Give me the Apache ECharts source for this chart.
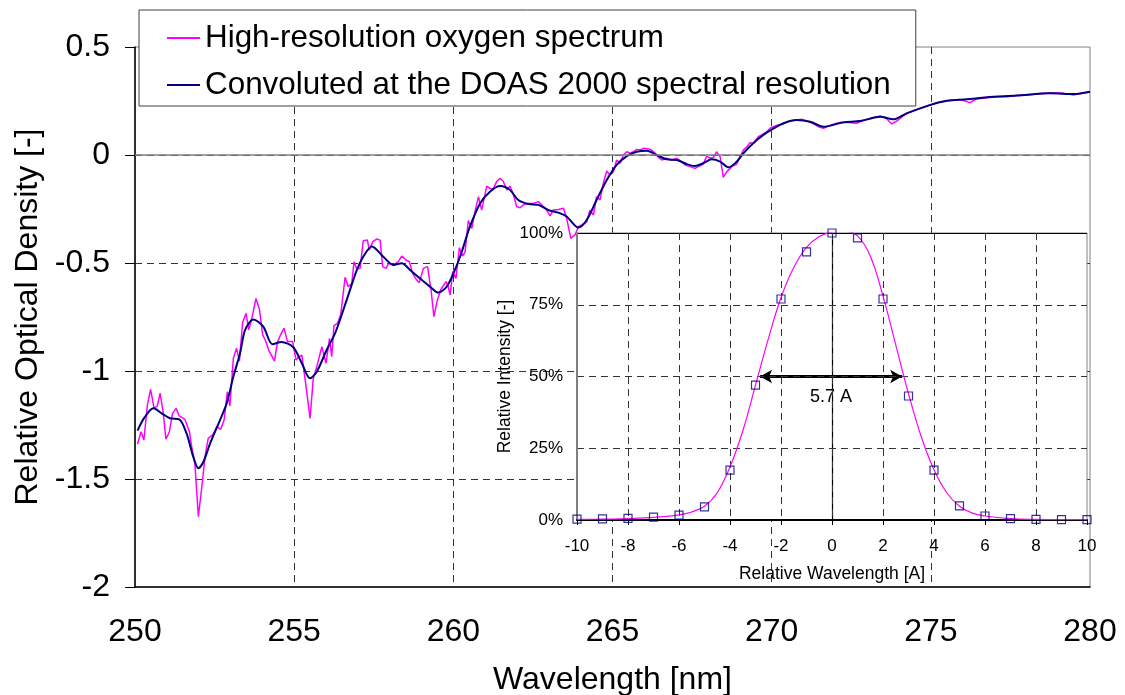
<!DOCTYPE html>
<html><head><meta charset="utf-8">
<script src="https://cdn.jsdelivr.net/npm/echarts@6/dist/echarts.min.js"></script>
<style>html,body{margin:0;padding:0;background:#fff}#c{width:1125px;height:695px}</style>
</head><body><div id="c"></div>
<script>
// ---- Main chart data ----
const hiresX = [250.08,250.19,250.28,250.39,250.49,250.6,250.7,250.79,250.89,250.97,251.08,251.18,251.29,251.39,251.57,251.71,251.78,251.88,251.99,252.1,252.2,252.3,252.44,252.57,252.69,252.8,252.9,252.98,253.09,253.19,253.28,253.38,253.49,253.57,253.67,253.8,253.91,254.01,254.1,254.2,254.38,254.48,254.58,254.68,254.79,254.95,255.06,255.13,255.24,255.34,255.5,255.6,255.71,255.87,256.0,256.11,256.18,256.25,256.36,256.46,256.6,256.7,256.81,256.88,256.96,257.07,257.17,257.3,257.36,257.47,257.59,257.7,257.78,257.89,257.96,258.12,258.27,258.38,258.51,258.62,258.72,258.85,258.93,259.06,259.19,259.3,259.39,259.5,259.6,259.77,259.84,259.9,259.98,260.08,260.19,260.29,260.37,260.47,260.58,260.68,260.79,260.89,261.05,261.15,261.24,261.36,261.47,261.57,261.68,261.78,261.89,261.99,262.1,262.2,262.36,262.51,262.67,262.83,262.93,263.04,263.14,263.3,263.46,263.56,263.69,263.82,263.93,264.03,264.19,264.29,264.4,264.5,264.61,264.71,264.82,264.92,265.03,265.13,265.24,265.34,265.45,265.55,265.66,265.76,265.87,265.97,266.13,266.23,266.34,266.44,266.55,266.7,266.86,267.02,267.17,267.28,267.44,267.59,267.7,267.85,267.96,268.06,268.17,268.27,268.38,268.48,268.59,268.75,268.9,269.01,269.11,269.22,269.32,269.43,269.58,269.69,269.85,269.95,270.11,270.21,270.37,270.58,270.79,270.95,271.1,271.3,271.47,271.63,271.8,272.0,272.2,272.4,272.67,272.9,273.1,273.41,273.6,273.77,273.93,274.1,274.3,274.6,274.97,275.3,275.6,275.9,276.13,276.23,276.4,276.76,277.1,277.4,277.7,278.0,278.3,278.75,279.1,279.3,279.48,279.7,280.0];
const hiresY = [-1.338,-1.281,-1.319,-1.157,-1.085,-1.173,-1.162,-1.103,-1.196,-1.316,-1.281,-1.196,-1.173,-1.208,-1.224,-1.281,-1.35,-1.427,-1.674,-1.536,-1.397,-1.312,-1.296,-1.258,-1.27,-1.227,-1.096,-1.162,-0.941,-0.895,-0.954,-0.776,-0.733,-0.81,-0.756,-0.664,-0.715,-0.833,-0.86,-0.903,-0.954,-0.864,-0.83,-0.802,-0.864,-0.864,-0.949,-0.937,-0.926,-1.034,-1.219,-1.034,-0.98,-0.887,-0.964,-0.849,-0.934,-0.79,-0.779,-0.741,-0.566,-0.61,-0.594,-0.494,-0.525,-0.525,-0.397,-0.394,-0.44,-0.401,-0.389,-0.394,-0.517,-0.525,-0.502,-0.509,-0.494,-0.468,-0.486,-0.494,-0.548,-0.579,-0.591,-0.525,-0.517,-0.625,-0.748,-0.671,-0.625,-0.586,-0.61,-0.648,-0.54,-0.571,-0.429,-0.468,-0.448,-0.304,-0.34,-0.262,-0.193,-0.255,-0.144,-0.154,-0.162,-0.123,-0.108,-0.123,-0.162,-0.144,-0.185,-0.239,-0.244,-0.231,-0.224,-0.224,-0.216,-0.239,-0.255,-0.282,-0.255,-0.252,-0.247,-0.293,-0.386,-0.37,-0.332,-0.324,-0.309,-0.255,-0.278,-0.193,-0.208,-0.131,-0.074,-0.093,-0.077,-0.023,-0.038,0.0,0.015,0.008,0.015,0.026,0.023,0.031,0.028,0.023,0.008,-0.011,-0.023,-0.015,-0.023,-0.015,-0.031,-0.046,-0.054,-0.062,-0.054,-0.042,-0.005,-0.015,-0.011,0.015,-0.008,-0.103,-0.077,-0.054,-0.042,-0.008,0.023,0.038,0.057,0.054,0.085,0.093,0.108,0.124,0.134,0.139,0.144,0.159,0.162,0.165,0.158,0.146,0.131,0.124,0.135,0.146,0.152,0.15,0.147,0.162,0.168,0.181,0.17,0.144,0.157,0.178,0.197,0.212,0.232,0.245,0.252,0.257,0.247,0.242,0.258,0.265,0.27,0.27,0.276,0.279,0.281,0.288,0.287,0.283,0.278,0.285,0.293];
const convX = [250.08,250.3,250.58,250.84,251.1,251.39,251.62,251.83,251.99,252.15,252.36,252.67,252.88,253.09,253.3,253.46,253.72,254.03,254.32,254.6,254.97,255.24,255.5,255.71,256.02,256.3,256.65,256.97,257.17,257.44,257.8,258.12,258.38,258.64,258.95,259.27,259.53,259.79,260.05,260.25,260.52,260.84,261.15,261.47,261.78,262.04,262.36,262.67,262.99,263.3,263.56,263.93,264.19,264.5,264.82,265.13,265.45,265.76,266.08,266.39,266.7,267.02,267.33,267.59,267.85,268.12,268.38,268.64,268.9,269.11,269.43,269.74,270.05,270.37,270.79,271.21,271.63,272.25,272.78,273.41,273.82,274.24,274.97,275.5,276.13,276.76,277.7,278.75,279.48,280.0];
const convY = [-1.276,-1.215,-1.173,-1.196,-1.219,-1.224,-1.289,-1.397,-1.45,-1.42,-1.335,-1.227,-1.15,-1.026,-0.918,-0.81,-0.761,-0.795,-0.876,-0.866,-0.89,-0.964,-1.034,-1.003,-0.903,-0.82,-0.671,-0.532,-0.471,-0.424,-0.471,-0.509,-0.501,-0.532,-0.571,-0.61,-0.637,-0.61,-0.532,-0.455,-0.332,-0.224,-0.17,-0.144,-0.162,-0.208,-0.227,-0.231,-0.255,-0.267,-0.285,-0.336,-0.301,-0.208,-0.116,-0.046,-0.005,0.015,0.02,0.0,-0.02,-0.023,-0.042,-0.051,-0.038,-0.02,-0.031,-0.057,-0.031,0.008,0.056,0.093,0.122,0.147,0.162,0.154,0.131,0.151,0.157,0.177,0.165,0.193,0.231,0.251,0.258,0.267,0.275,0.286,0.282,0.293];
const seriesNames = ['High-resolution oxygen spectrum','Convoluted at the DOAS 2000 spectral resolution'];

// ---- Inset data ----
const slitX = [-10,-9,-8,-7,-6,-5,-4,-3,-2,-1,0,1,2,3,4,5,6,7,8,9,10];
const slitY = [0.3,0.4,0.6,1.0,1.7,4.6,17.4,47,77,93.4,100,98.3,77,43.2,17.4,4.9,1.4,0.5,0.2,0.1,0.1];
const fitX = [-10,-9,-8,-7,-6,-5.5,-5,-4.5,-4,-3.5,-3,-2.5,-2,-1.5,-1,-0.5,0,0.5,1,1.5,2,2.5,3,3.5,4,4.5,5,5.5,6,7,8,9,10];
const fitY = [0.2,0.3,0.5,0.9,1.8,2.8,4.8,9.5,18.5,31,47,63,77.5,88,95,98.8,100.3,100.6,99,92,78,61,44,29,17.5,9.5,4.8,2.4,1.4,0.5,0.2,0.1,0.1];
const fwhmFrom = -2.82, fwhmTo = 2.75, fwhmLevel = 50, fwhmLabel = '5.7 A';

const zip = (a, b) => a.map((v, i) => [v, b[i]]);
const FONT = "'Liberation Sans', Arial, Helvetica, sans-serif";
const dashMain = {type:[7,5], color:'#333', width:1};
const dashInset = {type:[7,5], color:'#333', width:1};

const chart = echarts.init(document.getElementById('c'), null, {renderer:'canvas'});
chart.setOption({
  animation:false,
  backgroundColor:'#fff',
  textStyle:{fontFamily:FONT},
  legend:{
    left:139, top:10, orient:'vertical', z:10,
    backgroundColor:'#fff', borderColor:'#404040', borderWidth:1,
    padding:[11,25,4,28], itemGap:13, itemWidth:33, itemHeight:2,
    textStyle:{fontSize:31.4, lineHeight:34, color:'#000', fontFamily:FONT},
    data:seriesNames.map(n => ({name:n, icon:'rect'}))
  },
  grid:[
    {left:135, right:35, top:47, bottom:108, show:true, borderColor:'#808080', borderWidth:1, backgroundColor:'#fff', outerBoundsMode:'none', containLabel:false},
    {left:577, right:38, top:233, bottom:175, show:true, borderColor:'#808080', borderWidth:1, backgroundColor:'#fff', z:5, outerBoundsMode:'none', containLabel:false}
  ],
  xAxis:[
    {gridIndex:0, type:'value', min:250, max:280, interval:5,
     name:'Wavelength [nm]', nameLocation:'middle', nameGap:77,
     nameTextStyle:{fontSize:32, color:'#000', fontFamily:FONT},
     axisLine:{onZero:false, lineStyle:{color:'#000', width:1.5}},
     axisTick:{show:false},
     axisLabel:{fontSize:32, color:'#000', margin:29, fontFamily:FONT},
     splitLine:{show:true, showMinLine:false, showMaxLine:false, lineStyle:dashMain}},
    {gridIndex:1, type:'value', min:-10, max:10, interval:2, z:6,
     name:'Relative Wavelength [A]', nameLocation:'middle', nameGap:45,
     nameTextStyle:{fontSize:17.5, color:'#000', fontFamily:FONT},
     axisLine:{onZero:false, lineStyle:{color:'#000', width:2}},
     axisTick:{show:true, length:5, lineStyle:{color:'#000'}},
     axisLabel:{fontSize:17, color:'#000', margin:18, fontFamily:FONT},
     splitLine:{show:true, showMinLine:false, showMaxLine:false, lineStyle:dashInset}}
  ],
  yAxis:[
    {gridIndex:0, type:'value', min:-2, max:0.5, interval:0.5,
     name:'Relative Optical Density [-]', nameLocation:'middle', nameGap:87,
     nameTextStyle:{fontSize:32, color:'#000', fontFamily:FONT},
     axisLine:{show:true, onZero:false, lineStyle:{color:'#000', width:1.5}},
     axisTick:{show:true, length:10, lineStyle:{color:'#000'}},
     axisLabel:{fontSize:32, color:'#000', margin:25, fontFamily:FONT},
     splitLine:{show:true, showMinLine:false, showMaxLine:false, lineStyle:dashMain}},
    {gridIndex:1, type:'value', min:0, max:100, interval:25, z:6,
     name:'Relative Intensity [-]', nameLocation:'middle', nameGap:63,
     nameTextStyle:{fontSize:17.5, color:'#000', fontFamily:FONT},
     axisLine:{show:true, onZero:false, lineStyle:{color:'#808080', width:2}},
     axisTick:{show:false},
     axisLabel:{fontSize:17, color:'#000', margin:14, formatter:'{value}%', fontFamily:FONT},
     splitLine:{show:true, showMinLine:false, showMaxLine:false, lineStyle:dashInset}}
  ],
  series:[
    {name:seriesNames[0], type:'line', xAxisIndex:0, yAxisIndex:0, data:zip(hiresX, hiresY),
     symbol:'none', lineStyle:{color:'#FF00FF', width:1.5}, itemStyle:{color:'#FF00FF'}, z:2},
    {name:seriesNames[1], type:'line', xAxisIndex:0, yAxisIndex:0, data:zip(convX, convY),
     symbol:'none', smooth:0.3, lineStyle:{color:'#000080', width:2}, itemStyle:{color:'#000080'}, z:3,
     markLine:{silent:true, symbol:'none', label:{show:false}, animation:false,
       lineStyle:{type:'solid', color:'#808080', width:1.5}, data:[{yAxis:0}]}},
    {name:'fit', type:'line', xAxisIndex:1, yAxisIndex:1, data:zip(fitX, fitY), z:7,
     symbol:'none', smooth:0.4, lineStyle:{color:'#FF00FF', width:1.2},
     markLine:{silent:true, symbol:'none', label:{show:false}, animation:false,
       lineStyle:{type:'solid', color:'#000', width:1.2}, data:[{yAxis:100},{xAxis:0}]}},
    {name:'slit', type:'scatter', xAxisIndex:1, yAxisIndex:1, data:zip(slitX, slitY), z:8,
     symbol:'rect', symbolSize:8,
     itemStyle:{color:'rgba(255,255,255,0)', borderColor:'#000080', borderWidth:1.2},
     markLine:{silent:true, symbol:['arrow','arrow'], symbolSize:[10,12], animation:false,
       lineStyle:{type:'solid', color:'#000', width:3},
       label:{show:true, formatter:fwhmLabel, position:'insideMiddleBottom', distance:12, fontSize:18, color:'#000', fontFamily:FONT},
       data:[[{coord:[fwhmFrom, fwhmLevel]},{coord:[fwhmTo, fwhmLevel]}]]}}
  ]
});
</script></body></html>
